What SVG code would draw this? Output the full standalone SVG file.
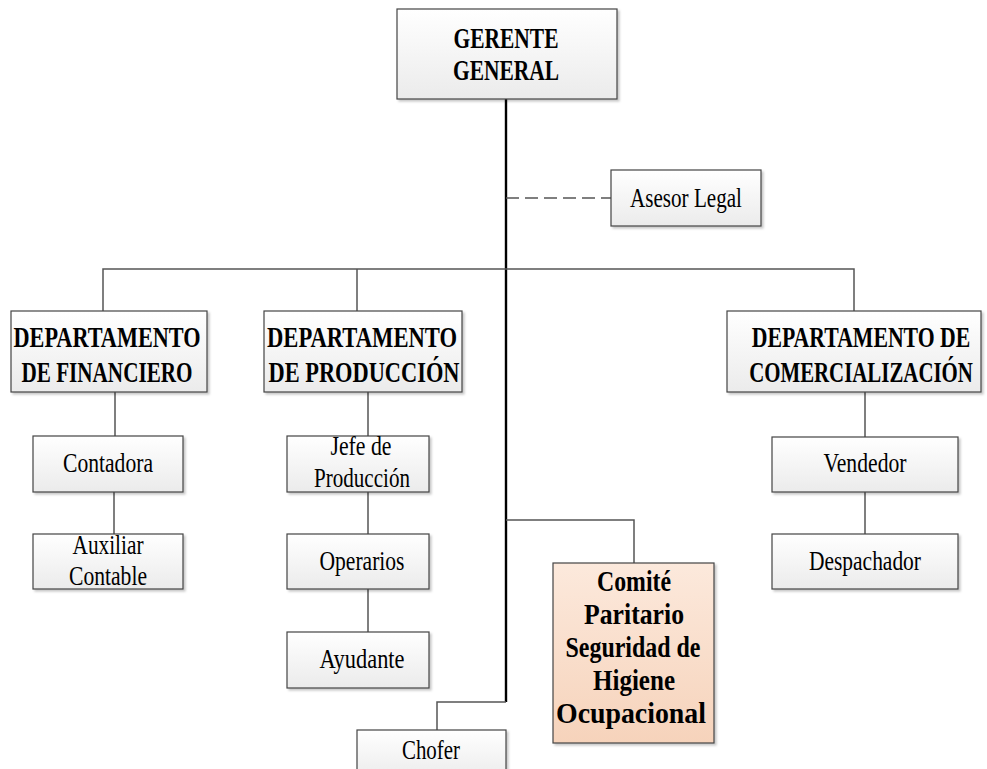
<svg xmlns="http://www.w3.org/2000/svg" width="987" height="769" viewBox="0 0 987 769">
<defs>
<linearGradient id="g" x1="0" y1="0" x2="0" y2="1"><stop offset="0" stop-color="#ffffff"/><stop offset="1" stop-color="#ebebeb"/></linearGradient>
<linearGradient id="p" x1="0" y1="0" x2="0" y2="1"><stop offset="0" stop-color="#fce9dc"/><stop offset="1" stop-color="#f6d3bb"/></linearGradient>
<filter id="sh" x="-5%" y="-5%" width="115%" height="120%"><feDropShadow dx="2" dy="2" stdDeviation="0.8" flood-color="#000" flood-opacity="0.22"/></filter>
</defs>
<style>
.b{fill:url(#g);stroke:#444;stroke-width:1.2;filter:url(#sh)}
.c{fill:url(#p);stroke:#444;stroke-width:1.2;filter:url(#sh)}
text{font-family:"Liberation Serif","Times New Roman",serif;fill:#000;text-anchor:middle}
.t{font-size:28px}
.h{font-size:29px;font-weight:bold}
.d{font-size:30px;font-weight:bold}
.e{font-size:29px;font-weight:bold}
.k{font-size:29px;font-weight:bold}
.l{fill:none;stroke:#555;stroke-width:1.5}
.m{fill:none;stroke:#000;stroke-width:2.4}
</style>
<rect width="987" height="769" fill="#fff"/>
<g id="connectors">
<path class="m" d="M506 99V702"/>
<path class="l" d="M506 198H611" stroke-dasharray="13 6"/>
<path class="l" d="M103 311V269H854V311M357 269V311"/>
<path class="l" d="M115 392V436M114 492V534"/>
<path class="l" d="M368 392V436M368 492V534M368 589V632"/>
<path class="l" d="M865 392V437M865 492V534"/>
<path class="l" d="M506 520H634V563"/>
<path class="l" d="M506 702H437V730"/>
</g>
<g id="gerente"><rect class="b" x="397" y="9" width="220" height="90"/>
<text class="h" x="506" y="48" textLength="105" lengthAdjust="spacingAndGlyphs">GERENTE</text>
<text class="h" x="506" y="80" textLength="106" lengthAdjust="spacingAndGlyphs">GENERAL</text></g>
<g id="asesor"><rect class="b" x="611" y="170" width="150" height="56"/>
<text class="t" x="686" y="207" textLength="112" lengthAdjust="spacingAndGlyphs">Asesor Legal</text></g>
<g id="dep-fin"><rect class="b" x="11" y="311" width="196" height="81"/>
<text class="d" x="107" y="347" textLength="187" lengthAdjust="spacingAndGlyphs">DEPARTAMENTO</text>
<text class="d" x="107" y="382" textLength="171" lengthAdjust="spacingAndGlyphs">DE FINANCIERO</text></g>
<g id="dep-prod"><rect class="b" x="264" y="311" width="198" height="81"/>
<text class="d" x="362" y="347" textLength="190" lengthAdjust="spacingAndGlyphs">DEPARTAMENTO</text>
<text class="d" x="364" y="382" textLength="191" lengthAdjust="spacingAndGlyphs">DE PRODUCCIÓN</text></g>
<g id="dep-com"><rect class="b" x="727" y="311" width="254" height="81"/>
<text class="e" transform="translate(861 347) scale(0.75 1)" x="0" y="0">DEPARTAMENTO DE</text>
<text class="e" transform="translate(861 382) scale(0.72 1)" x="0" y="0">COMERCIALIZACIÓN</text></g>
<g id="contadora"><rect class="b" x="33" y="436" width="150" height="56"/>
<text class="t" x="108" y="472" textLength="90" lengthAdjust="spacingAndGlyphs">Contadora</text></g>
<g id="auxiliar"><rect class="b" x="33" y="534" width="150" height="55"/>
<text class="t" x="108" y="554" textLength="71" lengthAdjust="spacingAndGlyphs">Auxiliar</text>
<text class="t" x="108" y="585" textLength="78" lengthAdjust="spacingAndGlyphs">Contable</text></g>
<g id="jefe"><rect class="b" x="287" y="436" width="142" height="56"/>
<text class="t" x="361" y="455" textLength="61" lengthAdjust="spacingAndGlyphs">Jefe de</text>
<text class="t" x="362" y="487" textLength="96" lengthAdjust="spacingAndGlyphs">Producción</text></g>
<g id="operarios"><rect class="b" x="287" y="534" width="142" height="55"/>
<text class="t" x="362" y="570" textLength="85" lengthAdjust="spacingAndGlyphs">Operarios</text></g>
<g id="ayudante"><rect class="b" x="287" y="632" width="142" height="56"/>
<text class="t" x="362" y="668" textLength="85" lengthAdjust="spacingAndGlyphs">Ayudante</text></g>
<g id="vendedor"><rect class="b" x="772" y="437" width="186" height="55"/>
<text class="t" x="865" y="472" textLength="83" lengthAdjust="spacingAndGlyphs">Vendedor</text></g>
<g id="despachador"><rect class="b" x="772" y="534" width="186" height="55"/>
<text class="t" x="865" y="570" textLength="112" lengthAdjust="spacingAndGlyphs">Despachador</text></g>
<g id="comite"><rect class="c" x="553" y="563" width="161" height="180"/>
<text class="k" x="634" y="591" textLength="74" lengthAdjust="spacingAndGlyphs">Comité</text>
<text class="k" x="634" y="624" textLength="100" lengthAdjust="spacingAndGlyphs">Paritario</text>
<text class="k" x="633" y="657" textLength="135" lengthAdjust="spacingAndGlyphs">Seguridad de</text>
<text class="k" x="634" y="690" textLength="82" lengthAdjust="spacingAndGlyphs">Higiene</text>
<text class="k" x="631" y="723" textLength="150" lengthAdjust="spacingAndGlyphs">Ocupacional</text></g>
<g id="chofer"><rect class="b" x="357" y="730" width="149" height="50"/>
<text class="t" x="431" y="759" textLength="58" lengthAdjust="spacingAndGlyphs">Chofer</text></g>
</svg>
